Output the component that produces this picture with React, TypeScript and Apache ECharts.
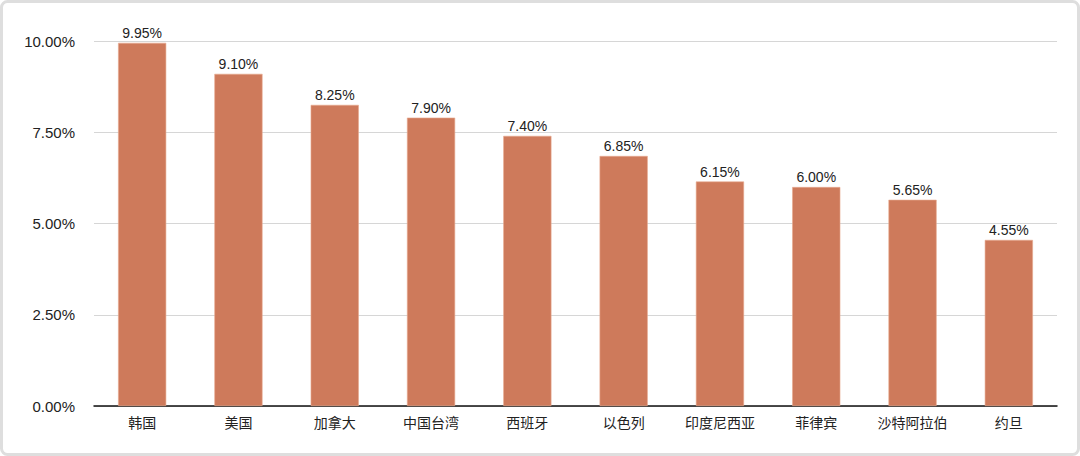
import React, { useEffect, useRef } from "react";
import * as echarts from "echarts";

const categories = ["韩国", "美国", "加拿大", "中国台湾", "西班牙", "以色列", "印度尼西亚", "菲律宾", "沙特阿拉伯", "约旦"];
const values = [9.95, 9.1, 8.25, 7.9, 7.4, 6.85, 6.15, 6.0, 5.65, 4.55];
const yTicks = [0, 2.5, 5, 7.5, 10];

export default function App() {
  const ref = useRef<HTMLDivElement>(null);
  useEffect(() => {
    document.body.style.margin = "0";
    const chart = echarts.init(ref.current!, null, { renderer: "svg" });
    const font = "'Helvetica Neue', Arial, 'Noto Sans CJK SC', sans-serif";
    chart.setOption({
      animation: false,
      backgroundColor: "#ffffff",
      textStyle: { fontFamily: font },
      graphic: [
        {
          type: "rect",
          shape: { x: 1.5, y: 1.5, width: 1077, height: 453, r: 6 },
          style: { fill: "none", stroke: "#dedede", lineWidth: 3 },
          silent: true,
        },
      ],
      grid: { left: 94, right: 23, top: 41, bottom: 50, containLabel: false },
      xAxis: {
        type: "category",
        data: categories,
        axisLine: { show: true, lineStyle: { color: "#111", width: 1.5 } },
        axisTick: { show: false },
        axisLabel: { color: "#222", fontSize: 14, margin: 10, fontFamily: font },
      },
      yAxis: {
        type: "value",
        min: 0,
        max: 10,
        interval: 2.5,
        axisLine: { show: false },
        axisTick: { show: false },
        splitLine: { lineStyle: { color: "#d6d6d6", width: 1 } },
        axisLabel: {
          color: "#222",
          fontSize: 15,
          margin: 19,
          fontFamily: font,
          formatter: (v: number) => (yTicks.includes(v) ? v.toFixed(2) + "%" : ""),
        },
      },
      series: [
        {
          type: "bar",
          data: values,
          barWidth: "50%",
          itemStyle: { color: "#CE7A5B", borderColor: "#e7a98f", borderWidth: 0.6 },
          label: {
            show: true,
            position: "top",
            distance: 3,
            color: "#222",
            fontSize: 14,
            fontFamily: font,
            formatter: (p: any) => Number(p.value).toFixed(2) + "%",
          },
        },
      ],
    });
    return () => chart.dispose();
  }, []);
  return <div ref={ref} style={{ position: "fixed", left: 0, top: 0, width: 1080, height: 456 }} />;
}
